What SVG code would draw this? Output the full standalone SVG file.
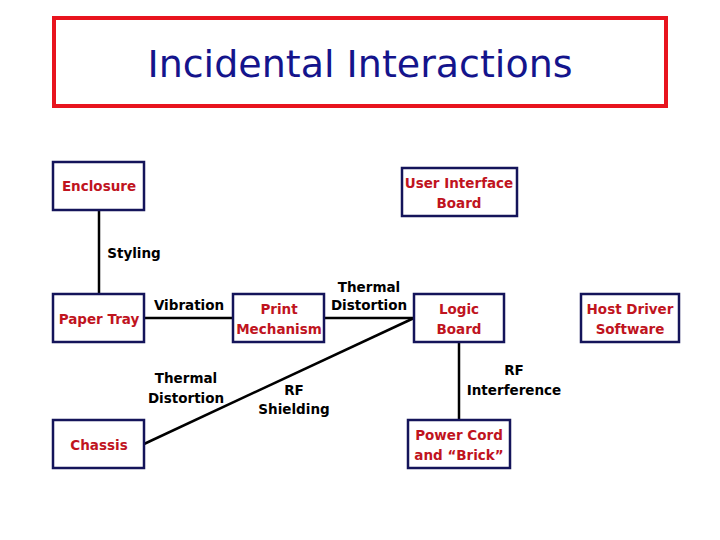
<svg xmlns="http://www.w3.org/2000/svg" width="720" height="540" viewBox="0 0 720 540">
<style>
.b{fill:#fff;stroke:#14145a;stroke-width:2.5}
.n{font-family:"DejaVu Sans",Verdana,sans-serif;font-size:13.5px;font-weight:bold;fill:#c0141e;text-anchor:middle}
.l{font-family:"DejaVu Sans",Verdana,sans-serif;font-size:13.5px;font-weight:bold;fill:#000;text-anchor:middle}
.c{stroke:#000;stroke-width:2.5;fill:none}
</style>
<rect width="720" height="540" fill="#fff"/>
<g id="title">
<rect x="54" y="18" width="612" height="88" fill="#fff" stroke="#e8141e" stroke-width="4"/>
<text x="360" y="77" font-family="'DejaVu Sans',sans-serif" font-size="38" fill="#14148c" text-anchor="middle">Incidental Interactions</text>
</g>
<g id="connectors">
<line class="c" x1="99" y1="210" x2="99" y2="294"/>
<line class="c" x1="144" y1="318" x2="233" y2="318"/>
<line class="c" x1="324" y1="318" x2="414" y2="318"/>
<line class="c" x1="144" y1="444" x2="414" y2="318"/>
<line class="c" x1="459" y1="342" x2="459" y2="420"/>
<text class="l" x="134" y="258">Styling</text>
<text class="l" x="189" y="310">Vibration</text>
<text class="l" x="369" y="292">Thermal</text>
<text class="l" x="369" y="310">Distortion</text>
<text class="l" x="186" y="383">Thermal</text>
<text class="l" x="186" y="403">Distortion</text>
<text class="l" x="294" y="395">RF</text>
<text class="l" x="294" y="414">Shielding</text>
<text class="l" x="514" y="375">RF</text>
<text class="l" x="514" y="395">Interference</text>
</g>
<g id="enclosure"><rect class="b" x="53" y="162" width="91" height="48"/><text class="n" x="99" y="191">Enclosure</text></g>
<g id="uib"><rect class="b" x="402" y="168" width="115" height="48"/><text class="n" x="459" y="188">User Interface</text><text class="n" x="459" y="208">Board</text></g>
<g id="papertray"><rect class="b" x="53" y="294" width="91" height="48"/><text class="n" x="99" y="324">Paper Tray</text></g>
<g id="print"><rect class="b" x="233" y="294" width="91" height="48"/><text class="n" x="279" y="314">Print</text><text class="n" x="279" y="334">Mechanism</text></g>
<g id="logic"><rect class="b" x="414" y="294" width="90" height="48"/><text class="n" x="459" y="314">Logic</text><text class="n" x="459" y="334">Board</text></g>
<g id="host"><rect class="b" x="581" y="294" width="98" height="48"/><text class="n" x="630" y="314">Host Driver</text><text class="n" x="630" y="334">Software</text></g>
<g id="chassis"><rect class="b" x="53" y="420" width="91" height="48"/><text class="n" x="99" y="450">Chassis</text></g>
<g id="power"><rect class="b" x="408" y="420" width="102" height="48"/><text class="n" x="459" y="440">Power Cord</text><text class="n" x="459" y="460">and “Brick”</text></g>
</svg>
